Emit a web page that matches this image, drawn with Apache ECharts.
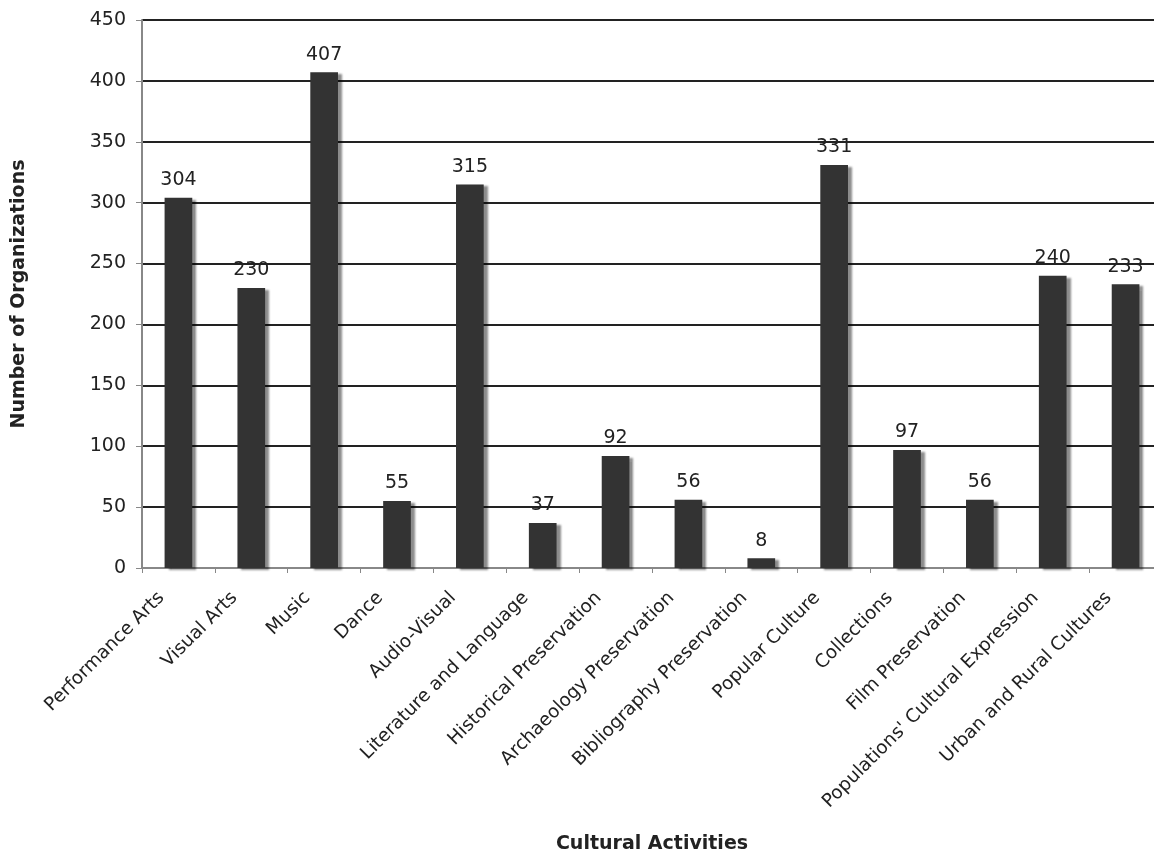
<!DOCTYPE html>
<html><head><meta charset="utf-8">
<script src="https://cdn.jsdelivr.net/npm/echarts@6/dist/echarts.min.js"></script>
<style>html,body{margin:0;padding:0;background:#fff}#c{width:1154px;height:857px}</style>
</head><body><div id="c"></div>
<script>
const categories = ["Performance Arts","Visual Arts","Music","Dance","Audio-Visual","Literature and Language","Historical Preservation","Archaeology Preservation","Bibliography Preservation","Popular Culture","Collections","Film Preservation","Populations' Cultural Expression","Urban and Rural Cultures"];
const values = [304,230,407,55,315,37,92,56,8,331,97,56,240,233];
const yTicks = [0,50,100,150,200,250,300,350,400,450];
const font = "DejaVu Sans";
const chart = echarts.init(document.getElementById('c'));
chart.setOption({
  animation:false,
  backgroundColor:'#fff',
  grid:{left:142,top:20,bottom:289,right:-8,containLabel:false,outerBoundsMode:'none'},
  xAxis:{type:'category',data:categories,
    name:'Cultural Activities',nameLocation:'middle',nameGap:267,
    nameTextStyle:{fontFamily:font,fontWeight:'bold',fontSize:19,color:'#222'},
    axisLine:{lineStyle:{color:'#888',width:2}},
    axisTick:{show:true,length:5,lineStyle:{color:'#888'}},
    axisLabel:{rotate:45,interval:0,fontFamily:font,fontSize:18.5,color:'#222',margin:10,padding:[0,24,0,0]}},
  yAxis:{type:'value',min:0,max:450,interval:50,
    name:'Number of Organizations',nameLocation:'middle',nameGap:113,
    nameTextStyle:{fontFamily:font,fontWeight:'bold',fontSize:19,color:'#222'},
    axisLine:{show:true,lineStyle:{color:'#888',width:2}},
    axisTick:{show:true,length:6,lineStyle:{color:'#888'}},
    axisLabel:{fontFamily:font,fontSize:19,color:'#222',margin:16,
      formatter:v=>yTicks.includes(v)?String(v):''},
    splitLine:{show:true,lineStyle:{color:'#222',width:2}}},
  series:[{type:'bar',data:values,barWidth:'38%',
    itemStyle:{color:'#333',shadowColor:'rgba(0,0,0,0.45)',shadowOffsetX:4,shadowOffsetY:2,shadowBlur:2},
    label:{show:true,position:'top',distance:8,fontFamily:font,fontSize:19,color:'#222'}}]
});
</script></body></html>
